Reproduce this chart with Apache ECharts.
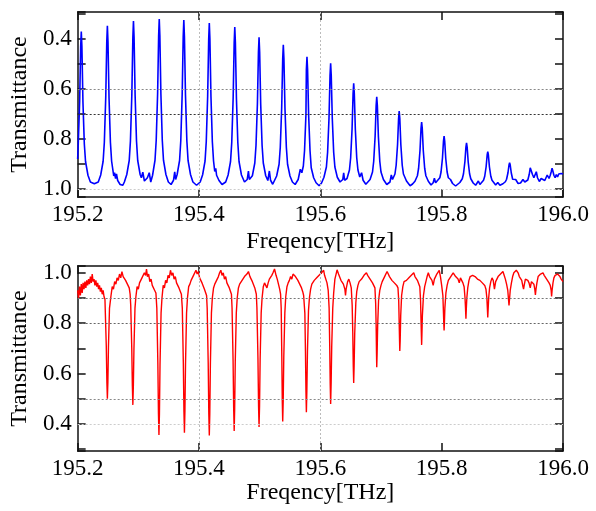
<!DOCTYPE html>
<html>
<head>
<meta charset="utf-8">
<script src="https://cdn.jsdelivr.net/npm/echarts@6/dist/echarts.min.js"></script>
<style>
html, body { margin: 0; padding: 0; background: #fff; }
#panel { width: 596px; height: 511px; }
</style>
</head>
<body>
<div id="panel"></div>
<script>
// transmission spectra: [frequency THz, transmittance]
var blueSpectrum = [
  [195.200,0.88],[195.201,0.82],[195.2033,0.65],[195.205,0.43],[195.206,0.37],[195.207,0.43],[195.2087,0.65],[195.211,0.82],[195.213,0.89],[195.217,0.945],[195.221,0.972],[195.2275,0.979],
  [195.234,0.972],[195.238,0.944],[195.242,0.889],[195.244,0.813],[195.2463,0.634],[195.248,0.411],[195.249,0.347],[195.250,0.411],[195.2517,0.634],[195.254,0.813],[195.256,0.889],[195.2595,0.948],[195.2608,0.935],[195.2625,0.958],[195.264,0.94],[195.266,0.966],[195.270,0.982],[195.2745,0.985],
  [195.277,0.972],[195.281,0.942],[195.285,0.886],[195.287,0.808],[195.2893,0.624],[195.291,0.394],[195.292,0.328],[195.293,0.394],[195.2947,0.624],[195.297,0.808],[195.299,0.886],[195.303,0.942],[195.305,0.955],[195.3074,0.933],[195.310,0.968],[195.3125,0.972],[195.315,0.955],[195.318,0.935],[195.3205,0.972],
  [195.3235,0.945],[195.3275,0.885],[195.3295,0.805],[195.3318,0.619],[195.3335,0.386],[195.3345,0.32],[195.3355,0.386],[195.3372,0.619],[195.3395,0.805],[195.3415,0.885],[195.3455,0.942],[195.3495,0.972],[195.354,0.982],[195.358,0.965],[195.360,0.931],[195.3615,0.962],
  [195.364,0.942],[195.368,0.886],[195.370,0.807],[195.3723,0.621],[195.374,0.39],[195.375,0.324],[195.376,0.39],[195.3777,0.621],[195.380,0.807],[195.382,0.886],[195.386,0.942],[195.390,0.972],[195.396,0.985],
  [195.402,0.972],[195.406,0.943],[195.410,0.888],[195.412,0.81],[195.4143,0.628],[195.416,0.401],[195.417,0.336],[195.418,0.401],[195.4197,0.628],[195.422,0.81],[195.424,0.888],[195.426,0.93],[195.4276,0.917],[195.429,0.945],[195.433,0.966],[195.438,0.982],
  [195.444,0.972],[195.448,0.944],[195.452,0.89],[195.454,0.814],[195.4563,0.637],[195.458,0.415],[195.459,0.352],[195.460,0.415],[195.4617,0.637],[195.464,0.814],[195.466,0.89],[195.470,0.944],[195.475,0.972],[195.4795,0.962],[195.4815,0.928],[195.483,0.962],[195.4855,0.968],
  [195.488,0.947],[195.492,0.896],[195.494,0.825],[195.4963,0.659],[195.498,0.452],[195.499,0.393],[195.500,0.452],[195.5017,0.659],[195.504,0.825],[195.506,0.896],[195.510,0.947],[195.5135,0.966],[195.516,0.928],[195.518,0.965],[195.5215,0.981],
  [195.524,0.974],[195.528,0.948],[195.532,0.901],[195.534,0.833],[195.5363,0.676],[195.538,0.479],[195.539,0.423],[195.540,0.479],[195.5417,0.676],[195.544,0.833],[195.546,0.901],[195.550,0.948],[195.554,0.972],[195.5585,0.982],[195.5635,0.962],[195.567,0.921],[195.5695,0.935],
  [195.572,0.908],[195.574,0.846],[195.5763,0.702],[195.577,0.522],[195.578,0.471],[195.579,0.522],[195.5807,0.702],[195.583,0.846],[195.585,0.915],[195.5865,0.93],[195.589,0.955],[195.593,0.975],[195.598,0.987],
  [195.602,0.976],[195.606,0.953],[195.610,0.912],[195.612,0.853],[195.6143,0.717],[195.616,0.546],[195.617,0.497],[195.618,0.546],[195.6197,0.717],[195.622,0.853],[195.624,0.912],[195.628,0.953],[195.6325,0.972],[195.637,0.962],[195.6385,0.935],[195.640,0.965],
  [195.644,0.958],[195.648,0.924],[195.650,0.875],[195.6523,0.761],[195.654,0.618],[195.655,0.577],[195.656,0.618],[195.6577,0.761],[195.660,0.875],[195.662,0.924],[195.665,0.952],[195.668,0.935],[195.6705,0.965],[195.675,0.981],
  [195.678,0.976],[195.682,0.962],[195.686,0.932],[195.688,0.889],[195.6903,0.79],[195.692,0.666],[195.693,0.631],[195.694,0.666],[195.6957,0.79],[195.698,0.889],[195.700,0.932],[195.704,0.962],[195.7095,0.982],[195.7148,0.972],[195.717,0.944],[195.719,0.962],
  [195.723,0.94],[195.725,0.905],[195.7273,0.822],[195.729,0.718],[195.730,0.688],[195.731,0.718],[195.7327,0.822],[195.735,0.905],[195.737,0.94],[195.7392,0.945],[195.742,0.968],[195.748,0.987],
  [195.752,0.98],[195.756,0.969],[195.760,0.947],[195.762,0.917],[195.7643,0.846],[195.766,0.757],[195.767,0.732],[195.768,0.757],[195.7697,0.846],[195.772,0.917],[195.774,0.947],[195.778,0.969],[195.7825,0.984],[195.786,0.975],[195.788,0.957],[195.790,0.975],
  [195.793,0.972],[195.797,0.955],[195.799,0.932],[195.8013,0.877],[195.803,0.808],[195.804,0.788],[195.805,0.808],[195.8067,0.877],[195.809,0.932],[195.811,0.955],[195.8145,0.962],[195.818,0.978],[195.823,0.988],
  [195.826,0.982],[195.830,0.974],[195.834,0.959],[195.836,0.939],[195.8383,0.891],[195.840,0.832],[195.841,0.815],[195.842,0.832],[195.8437,0.891],[195.846,0.939],[195.848,0.959],[195.852,0.976],[195.856,0.985],[195.8605,0.968],[195.863,0.982],
  [195.865,0.976],[195.869,0.965],[195.871,0.949],[195.8733,0.911],[195.875,0.864],[195.876,0.851],[195.877,0.864],[195.8787,0.911],[195.881,0.949],[195.883,0.965],[195.886,0.972],[195.889,0.984],[195.8925,0.974],[195.896,0.985],
  [195.901,0.979],[195.905,0.971],[195.907,0.961],[195.9093,0.935],[195.911,0.904],[195.912,0.895],[195.913,0.904],[195.9147,0.935],[195.917,0.961],[195.919,0.968],[195.922,0.962],[195.926,0.978],[195.930,0.976],[195.934,0.962],[195.937,0.972],
  [195.940,0.973],[195.942,0.964],[195.9443,0.942],[195.946,0.915],[195.947,0.907],[195.948,0.915],[195.9497,0.942],[195.952,0.955],[195.954,0.95],[195.956,0.931],[195.958,0.955],[195.961,0.97],[195.964,0.958],[195.967,0.951],[195.970,0.966],[195.974,0.944],[195.977,0.958],
  [195.979,0.945],[195.9805,0.932],[195.982,0.917],[195.9835,0.93],[195.985,0.945],[195.987,0.955],[195.989,0.942],[195.991,0.952],[195.993,0.94],[195.995,0.948],[195.997,0.938],[196.000,0.94]
];

var redSpectrum = [
  [195.2000,0.93],[195.2015,0.90],[195.203,0.945],[195.2045,0.91],[195.206,0.955],[195.2075,0.92],[195.209,0.96],[195.2105,0.935],[195.212,0.965],[195.2135,0.94],[195.215,0.97],[195.2165,0.95],[195.218,0.975],[195.2195,0.955],[195.221,0.985],[195.2225,0.96],[195.224,0.995],[195.2255,0.965],[195.227,0.975],[195.2285,0.95],[195.230,0.97],[195.2315,0.945],[195.233,0.96],[195.2345,0.935],[195.236,0.95],[195.2375,0.925],[195.239,0.94],[195.2405,0.915],[195.242,0.93],[195.2435,0.905],
  [195.245,0.895],[195.2472,0.71],[195.2482,0.565],[195.249,0.50],[195.2498,0.565],[195.2508,0.71],[195.2525,0.86],[195.255,0.91],
  [195.257,0.945],[195.259,0.935],[195.261,0.965],[195.263,0.955],[195.265,0.98],[195.267,0.97],[195.269,0.995],[195.271,0.98],[195.273,1.005],[195.275,0.985],[195.277,0.99],[195.279,0.97],[195.281,0.975],[195.283,0.95],[195.285,0.94],[195.2865,0.915],
  [195.2875,0.87],[195.2892,0.70],[195.2902,0.55],[195.291,0.476],[195.2918,0.55],[195.2928,0.70],[195.2945,0.86],[195.296,0.905],
  [195.298,0.945],[195.300,0.935],[195.302,0.96],[195.304,0.955],[195.306,0.98],[195.308,0.975],[195.310,1.0],[195.312,0.99],[195.3135,1.015],[195.315,0.985],[195.317,0.995],[195.319,0.965],[195.321,0.975],[195.323,0.95],[195.325,0.955],[195.327,0.93],[195.329,0.92],
  [195.3305,0.86],[195.3322,0.64],[195.3332,0.44],[195.334,0.357],[195.3348,0.44],[195.3358,0.64],[195.3375,0.84],[195.339,0.9],
  [195.341,0.95],[195.343,0.94],[195.345,0.97],[195.347,0.96],[195.349,0.99],[195.351,0.98],[195.353,1.01],[195.355,0.99],[195.357,1.0],[195.359,0.975],[195.361,0.985],[195.363,0.96],[195.365,0.965],[195.367,0.94],[195.369,0.935],[195.371,0.915],
  [195.3725,0.86],[195.3742,0.64],[195.3752,0.45],[195.376,0.365],[195.3768,0.45],[195.3778,0.64],[195.3795,0.84],[195.381,0.9],
  [195.383,0.945],[195.385,0.955],[195.387,0.97],[195.389,0.965],[195.391,0.99],[195.393,0.985],[195.395,1.01],[195.397,0.995],[195.399,1.005],[195.401,0.98],[195.403,0.985],[195.405,0.96],[195.407,0.955],[195.409,0.935],[195.411,0.93],[195.4125,0.91],
  [195.4135,0.86],[195.4152,0.64],[195.4162,0.44],[195.417,0.355],[195.4178,0.44],[195.4188,0.64],[195.4205,0.84],[195.422,0.9],
  [195.424,0.94],[195.426,0.955],[195.428,0.965],[195.430,0.975],[195.432,0.985],[195.434,1.0],[195.436,1.01],[195.438,0.99],[195.440,1.0],[195.442,0.975],[195.444,0.985],[195.446,0.96],[195.448,0.965],[195.450,0.94],[195.452,0.935],[195.4535,0.915],
  [195.4545,0.86],[195.4562,0.65],[195.4572,0.46],[195.458,0.372],[195.4588,0.46],[195.4598,0.65],[195.4615,0.84],[195.463,0.9],
  [195.465,0.94],[195.467,0.955],[195.469,0.96],[195.471,0.97],[195.473,0.975],[195.475,0.985],[195.477,0.98],[195.479,0.995],[195.4815,1.005],[195.484,0.985],[195.486,0.99],[195.488,0.965],[195.490,0.96],[195.492,0.94],[195.4945,0.915],
  [195.4955,0.86],[195.4972,0.66],[195.4982,0.47],[195.499,0.388],[195.4998,0.47],[195.5008,0.66],[195.5025,0.84],[195.504,0.9],
  [195.506,0.945],[195.508,0.96],[195.510,0.955],[195.512,0.94],[195.514,0.96],[195.516,0.975],[195.518,0.97],[195.520,0.99],[195.522,1.0],[195.5245,1.015],[195.527,0.99],[195.529,0.975],[195.531,0.955],[195.533,0.935],[195.5345,0.915],
  [195.5355,0.86],[195.5365,0.67],[195.5373,0.49],[195.538,0.41],[195.5388,0.49],[195.5398,0.67],[195.5415,0.84],[195.543,0.905],
  [195.545,0.945],[195.547,0.96],[195.549,0.97],[195.551,0.985],[195.553,0.975],[195.555,0.995],[195.557,1.0],[195.559,0.985],[195.561,0.99],[195.563,0.97],[195.565,0.975],[195.567,0.95],[195.569,0.94],[195.571,0.925],[195.5725,0.91],
  [195.5745,0.84],[195.5755,0.69],[195.5763,0.53],[195.577,0.447],[195.5778,0.53],[195.5788,0.69],[195.5805,0.85],[195.582,0.9],
  [195.584,0.935],[195.586,0.955],[195.588,0.95],[195.590,0.97],[195.592,0.965],[195.594,0.98],[195.596,0.975],[195.598,0.99],[195.600,0.985],[195.602,1.0],[195.604,0.995],[195.6055,1.01],[195.607,0.99],[195.609,0.985],[195.611,0.96],[195.613,0.93],
  [195.6145,0.86],[195.6155,0.71],[195.6163,0.56],[195.617,0.48],[195.6178,0.56],[195.6188,0.71],[195.6205,0.86],[195.622,0.92],
  [195.624,0.975],[195.626,0.995],[195.6276,1.012],[195.630,0.995],[195.632,0.99],[195.634,0.97],[195.636,0.975],[195.638,0.955],[195.6405,0.935],[195.6415,0.91],[195.6425,0.935],[195.645,0.965],[195.647,0.975],[195.649,0.96],[195.651,0.94],
  [195.6525,0.87],[195.6535,0.76],[195.6543,0.63],[195.655,0.563],[195.6557,0.63],[195.6567,0.76],[195.6585,0.88],[195.660,0.925],
  [195.662,0.95],[195.664,0.965],[195.666,0.96],[195.668,0.975],[195.670,0.98],[195.672,0.99],[195.674,0.985],[195.676,1.0],[195.678,0.99],[195.680,0.995],[195.682,0.975],[195.684,0.98],[195.686,0.96],[195.688,0.955],[195.690,0.94],
  [195.6912,0.88],[195.692,0.79],[195.6926,0.68],[195.693,0.625],[195.6936,0.68],[195.6945,0.79],[195.696,0.89],[195.698,0.93],
  [195.700,0.95],[195.702,0.965],[195.704,0.97],[195.706,0.985],[195.708,0.99],[195.710,1.005],[195.712,0.995],[195.714,0.985],[195.716,0.99],[195.718,0.97],[195.720,0.975],[195.722,0.96],[195.724,0.965],[195.726,0.95],[195.728,0.94],
  [195.7292,0.89],[195.730,0.80],[195.7306,0.73],[195.731,0.69],[195.7316,0.73],[195.7325,0.83],[195.734,0.91],[195.736,0.945],
  [195.738,0.965],[195.740,0.96],[195.742,0.97],[195.744,0.965],[195.746,0.98],[195.748,0.975],[195.750,0.99],[195.752,0.985],[195.754,1.0],[195.756,0.985],[195.758,0.99],[195.760,0.97],[195.762,0.965],[195.764,0.945],
  [195.7652,0.89],[195.766,0.81],[195.7666,0.75],[195.767,0.714],[195.7674,0.75],[195.7682,0.83],[195.770,0.91],[195.772,0.945],
  [195.774,0.965],[195.776,0.985],[195.778,1.0],[195.780,0.985],[195.782,0.99],[195.784,0.97],[195.786,0.95],[195.788,0.975],[195.790,0.985],[195.792,0.995],[195.794,1.0],[195.796,1.01],[195.798,0.985],[195.800,0.95],
  [195.802,0.91],[195.803,0.84],[195.8035,0.80],[195.804,0.771],[195.8045,0.80],[195.8053,0.86],[195.807,0.92],[195.809,0.95],
  [195.811,0.97],[195.813,0.975],[195.815,0.985],[195.817,0.99],[195.819,1.0],[195.821,0.995],[195.823,0.985],[195.825,0.99],[195.827,0.975],[195.829,0.96],[195.831,0.98],[195.833,0.975],[195.835,0.96],[195.837,0.945],
  [195.8385,0.9],[195.8393,0.86],[195.840,0.818],[195.8407,0.86],[195.8415,0.9],[195.843,0.94],
  [195.845,0.97],[195.847,0.985],[195.849,0.98],[195.851,0.99],[195.853,0.995],[195.855,0.985],[195.857,0.99],[195.859,0.975],[195.861,0.98],[195.863,0.97],[195.865,0.975],[195.867,0.96],[195.869,0.965],[195.871,0.95],[195.873,0.935],
  [195.8745,0.9],[195.8753,0.86],[195.876,0.823],[195.8767,0.86],[195.8775,0.9],[195.879,0.94],
  [195.881,0.965],[195.883,0.98],[195.885,0.97],[195.887,0.935],[195.889,0.965],[195.891,0.975],[195.893,0.985],[195.895,0.98],[195.897,0.995],[195.899,1.0],[195.901,1.005],[195.903,0.99],[195.905,0.975],[195.907,0.955],
  [195.909,0.93],[195.910,0.9],[195.911,0.871],[195.912,0.9],[195.913,0.93],[195.915,0.96],
  [195.917,0.985],[195.919,1.0],[195.921,0.995],[195.923,1.01],[195.9245,1.015],[195.926,1.0],[195.928,0.985],[195.930,0.99],[195.932,0.97],[195.934,0.945],[195.935,0.935],[195.936,0.95],[195.938,0.975],[195.940,0.98],[195.942,0.97],[195.944,0.96],[195.946,0.94],[195.948,0.965],[195.950,0.97],[195.952,0.955],[195.9535,0.935],
  [195.9545,0.912],[195.9555,0.935],[195.957,0.96],
  [195.959,0.985],[195.961,0.98],[195.963,0.995],[195.965,0.99],[195.967,1.0],[195.969,0.99],[195.971,0.995],[195.973,0.975],[195.975,0.98],[195.977,0.96],[195.979,0.95],[195.9805,0.93],
  [195.9812,0.906],[195.982,0.93],[195.9835,0.96],[195.985,0.98],[195.987,0.99],[195.989,0.985],[195.991,0.995],[195.993,0.99],[195.995,0.985],[195.997,0.975],[195.999,0.968],[196.000,0.965]
];

// reference lines drawn in the original
var topGridT = [0.6, 0.7, 1.0];
var bottomGridT = [0.9, 0.8, 0.5, 0.4];
var gridFreq = [195.4, 195.6];

var FONT = '"Liberation Serif", "Times New Roman", serif';
var gridColor = { 0.6: '#888', 0.7: '#333', 1.0: '#ccc', 0.9: '#777', 0.8: '#666', 0.5: '#888', 0.4: '#ccc' };

function freqAxes(gi, nameGap) {
  var common = {
    type: 'value', gridIndex: gi, min: 195.2, max: 196.0, interval: 0.2,
    axisLine: { show: true, lineStyle: { color: '#111', width: 1.5 } },
    axisTick: { show: true, inside: true, length: 8, lineStyle: { color: '#111', width: 1.5 } },
    splitLine: { show: false }
  };
  return [
    Object.assign({}, common, {
      position: 'bottom',
      axisLabel: { margin: 6, fontSize: 23, color: '#000', fontFamily: FONT, formatter: function (v) { return v.toFixed(1); } },
      name: 'Freqency[THz]', nameLocation: 'middle', nameGap: nameGap,
      nameTextStyle: { fontSize: 24, color: '#000', fontFamily: FONT }
    }),
    Object.assign({}, common, { position: 'top', axisLabel: { show: false } })
  ];
}

function transAxes(gi, min, max, inverse) {
  var common = {
    type: 'value', gridIndex: gi, min: min, max: max, inverse: inverse,
    splitNumber: 7, minInterval: 0.1, maxInterval: 0.1,
    axisLine: { show: true, onZero: false, lineStyle: { color: '#111', width: 1.5 } },
    axisTick: { show: true, inside: true, length: 8, lineStyle: { color: '#111', width: 1.5 } },
    splitLine: { show: false }
  };
  return [
    Object.assign({}, common, {
      position: 'left',
      axisLabel: {
        margin: 6, fontSize: 23, color: '#000', fontFamily: FONT,
        formatter: function (v) {
          var t = v * 10, r = Math.round(t);
          if (Math.abs(t - r) > 1e-6 || r % 2 !== 0) return '';
          return v.toFixed(1);
        }
      },
      name: 'Transmittance', nameLocation: 'middle', nameGap: 39,
      nameTextStyle: { fontSize: 24, color: '#000', fontFamily: FONT }
    }),
    Object.assign({}, common, { position: 'right', axisLabel: { show: false } })
  ];
}

function refLines(tVals) {
  var data = [];
  tVals.forEach(function (t) {
    data.push({ yAxis: t, lineStyle: { color: gridColor[t], type: [2, 2], width: 1 } });
  });
  gridFreq.forEach(function (f) {
    data.push({ xAxis: f, lineStyle: { color: '#bbb', type: [2, 2], width: 1 } });
  });
  return { silent: true, symbol: 'none', label: { show: false }, animation: false, data: data };
}

var chart = echarts.init(document.getElementById('panel'));
chart.setOption({
  backgroundColor: '#fff',
  animation: false,
  grid: [
    { left: 77, right: 33, top: 12, height: 185 },
    { left: 77, right: 33, top: 266, height: 185 }
  ],
  xAxis: freqAxes(0, 33).concat(freqAxes(1, 29)),
  yAxis: transAxes(0, 0.292, 1.032, true).concat(transAxes(1, 0.293, 1.027, false)),
  series: [
    {
      type: 'line', xAxisIndex: 0, yAxisIndex: 0, data: blueSpectrum,
      symbol: 'none', lineStyle: { color: '#0000ff', width: 1.6 }, z: 3,
      markLine: refLines(topGridT)
    },
    {
      type: 'line', xAxisIndex: 2, yAxisIndex: 2, data: redSpectrum,
      symbol: 'none', lineStyle: { color: '#ff0000', width: 1.4 }, z: 3,
      markLine: refLines(bottomGridT)
    }
  ]
});
</script>
</body>
</html>
